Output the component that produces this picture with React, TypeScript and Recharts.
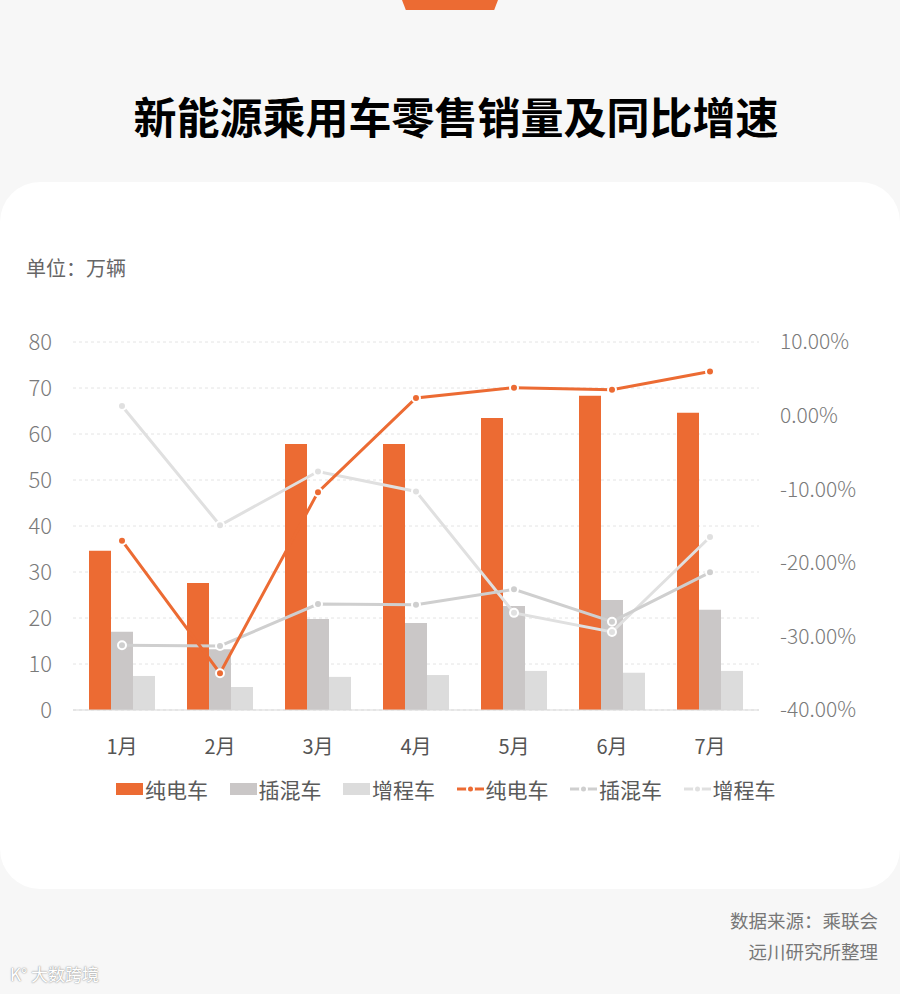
import { ComposedChart, Bar, Line, XAxis, YAxis, CartesianGrid } from 'recharts'

const months = ['1月', '2月', '3月', '4月', '5月', '6月', '7月']

// 零售销量（万辆）
const bevSales = [34.6, 27.6, 57.8, 57.8, 63.5, 68.3, 64.6]
const phevSales = [17.0, 13.2, 19.8, 18.9, 22.6, 23.9, 21.8]
const erevSales = [7.4, 5.0, 7.2, 7.6, 8.5, 8.1, 8.5]

// 同比增速（%）
const bevYoy = [-17.0, -35.0, -10.4, 2.4, 3.8, 3.5, 6.0]
const phevYoy = [-31.2, -31.3, -25.6, -25.7, -23.6, -28.0, -21.3]
const erevYoy = [1.3, -14.9, -7.6, -10.3, -26.8, -29.4, -16.5]

const leftTicks = [0, 10, 20, 30, 40, 50, 60, 70, 80]
const rightTicks = [-40, -30, -20, -10, 0, 10]

const ORANGE = '#EC6B33'
const PHEV_BAR = '#CAC7C7'
const EREV_BAR = '#DCDCDC'
const PHEV_LINE = '#CFCFCF'
const EREV_LINE = '#E0E0E0'

const FONT = '"Noto Sans CJK SC", "Noto Sans", sans-serif'

const data = months.map((month, i) => ({
  month,
  bev: bevSales[i],
  phev: phevSales[i],
  erev: erevSales[i],
  bevYoy: bevYoy[i],
  phevYoy: phevYoy[i],
  erevYoy: erevYoy[i],
}))

const legendItems = [
  { name: '纯电车', color: ORANGE, kind: 'bar' },
  { name: '插混车', color: PHEV_BAR, kind: 'bar' },
  { name: '增程车', color: EREV_BAR, kind: 'bar' },
  { name: '纯电车', color: ORANGE, kind: 'line' },
  { name: '插混车', color: PHEV_LINE, kind: 'line' },
  { name: '增程车', color: EREV_LINE, kind: 'line' },
]

function dot(color: string) {
  return { r: 4, fill: color, stroke: '#fff', strokeWidth: 2 }
}

function LegendRow() {
  return (
    <div
      style={{
        position: 'absolute',
        left: 116,
        top: 775,
        display: 'flex',
        alignItems: 'center',
        fontSize: 21,
        lineHeight: '28px',
        color: '#5a5a5a',
      }}
    >
      {legendItems.map((item, i) => (
        <div
          key={i}
          style={{ display: 'flex', alignItems: 'center', marginRight: 21.5 }}
        >
          <svg width={27} height={12} style={{ marginRight: 2 }}>
            {item.kind === 'bar' ? (
              <rect x={0} y={0} width={27} height={12} fill={item.color} />
            ) : (
              <>
                <line
                  x1={0}
                  y1={6}
                  x2={27}
                  y2={6}
                  stroke={item.color}
                  strokeWidth={3}
                />
                <circle
                  cx={13.5}
                  cy={6}
                  r={3.5}
                  fill={item.color}
                  stroke="#fff"
                  strokeWidth={2}
                />
              </>
            )}
          </svg>
          <span>{item.name}</span>
        </div>
      ))}
    </div>
  )
}

export default function App() {
  return (
    <div
      style={{
        position: 'fixed',
        left: 0,
        top: 0,
        width: 900,
        height: 994,
        background: '#F7F7F7',
        fontFamily: FONT,
        overflow: 'hidden',
      }}
    >
      {/* 顶部橙色标签 */}
      <div
        style={{
          position: 'absolute',
          left: 402,
          top: 0,
          width: 96,
          height: 10,
          background: ORANGE,
          clipPath: 'polygon(0 0, 100% 0, 96% 100%, 4% 100%)',
        }}
      />

      <div
        style={{
          position: 'absolute',
          left: 0,
          top: 93,
          width: 912,
          textAlign: 'center',
          fontSize: 43,
          lineHeight: '44px',
          fontWeight: 700,
          color: '#000',
        }}
      >
        新能源乘用车零售销量及同比增速
      </div>

      {/* 白色卡片 */}
      <div
        style={{
          position: 'absolute',
          left: 0,
          top: 182,
          width: 900,
          height: 707,
          background: '#fff',
          borderRadius: 40,
        }}
      />

      <div
        style={{
          position: 'absolute',
          left: 26,
          top: 255,
          fontSize: 20,
          lineHeight: '26px',
          color: '#666',
        }}
      >
        单位：万辆
      </div>

      <div style={{ position: 'absolute', left: 0, top: 300 }}>
        <ComposedChart
          width={900}
          height={470}
          data={data}
          margin={{ top: 42, right: 0, bottom: 0, left: 0 }}
          barCategoryGap={16}
          barGap={0}
        >
          <CartesianGrid
            yAxisId="left"
            vertical={false}
            stroke="#E4E4E4"
            strokeDasharray="3 3"
          />
          <XAxis
            dataKey="month"
            height={60}
            axisLine={{ stroke: '#D9D9D9' }}
            tickLine={false}
            tickSize={0}
            tickMargin={30}
            tick={{ fontSize: 20, fill: '#555', fontFamily: FONT }}
          />
          <YAxis
            yAxisId="left"
            width={73}
            domain={[0, 80]}
            ticks={leftTicks}
            axisLine={false}
            tickLine={false}
            tickSize={0}
            tickMargin={21}
            tick={{ fontSize: 22, fill: '#7a7a7a', fontWeight: 300, fontFamily: FONT }}
          />
          <YAxis
            yAxisId="right"
            orientation="right"
            width={141}
            domain={[-40, 10]}
            ticks={rightTicks}
            axisLine={false}
            tickLine={false}
            tickSize={0}
            tickMargin={21}
            tickFormatter={(v: number) => `${v.toFixed(2)}%`}
            tick={{ fontSize: 21, fill: '#7a7a7a', fontWeight: 300, fontFamily: FONT }}
          />
          <Bar yAxisId="left" dataKey="bev" name="纯电车" fill={ORANGE} isAnimationActive={false} />
          <Bar yAxisId="left" dataKey="phev" name="插混车" fill={PHEV_BAR} isAnimationActive={false} />
          <Bar yAxisId="left" dataKey="erev" name="增程车" fill={EREV_BAR} isAnimationActive={false} />
          <Line
            yAxisId="right"
            dataKey="erevYoy"
            name="增程车"
            stroke={EREV_LINE}
            strokeWidth={3}
            dot={dot(EREV_LINE)}
            activeDot={false}
            isAnimationActive={false}
          />
          <Line
            yAxisId="right"
            dataKey="phevYoy"
            name="插混车"
            stroke={PHEV_LINE}
            strokeWidth={3}
            dot={dot(PHEV_LINE)}
            activeDot={false}
            isAnimationActive={false}
          />
          <Line
            yAxisId="right"
            dataKey="bevYoy"
            name="纯电车"
            stroke={ORANGE}
            strokeWidth={3}
            dot={dot(ORANGE)}
            activeDot={false}
            isAnimationActive={false}
          />
        </ComposedChart>
      </div>

      <LegendRow />

      <div
        style={{
          position: 'absolute',
          right: 22,
          top: 905,
          textAlign: 'right',
          fontSize: 18.5,
          lineHeight: '31px',
          color: '#777',
        }}
      >
        <div>数据来源：乘联会</div>
        <div>远川研究所整理</div>
      </div>

      {/* 水印 */}
      <div
        style={{
          position: 'absolute',
          left: 10,
          top: 962,
          fontSize: 17,
          lineHeight: '24px',
          color: '#fff',
          textShadow: '0 0 2px #9a9a9a, 0 0 1px #9a9a9a',
        }}
      >
        K° 大数跨境
      </div>
    </div>
  )
}
